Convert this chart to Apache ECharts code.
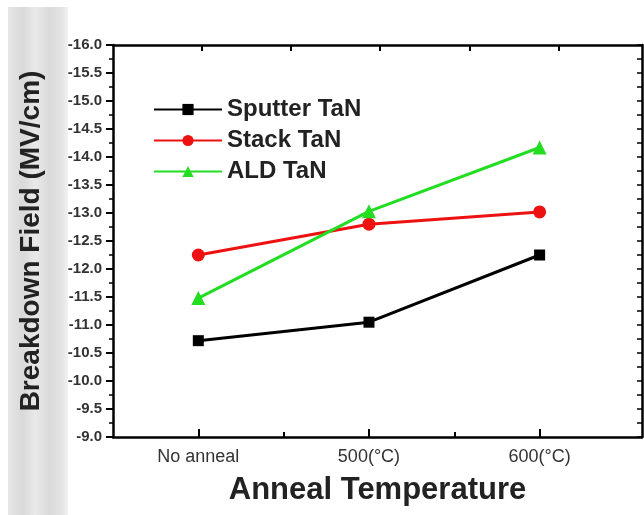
<!DOCTYPE html>
<html>
<head>
<meta charset="utf-8">
<script src="https://cdn.jsdelivr.net/npm/echarts@6/dist/echarts.min.js"></script>
<style>
  html, body { margin: 0; padding: 0; background: #fff; }
  #chart { width: 644px; height: 515px; }
</style>
</head>
<body>
<div id="chart"></div>
<script>
// 数据
var categories = ["No anneal", "500(\u00b0C)", "600(\u00b0C)"];
var xPos = [1, 2, 3];
var sputter = [-10.72, -11.05, -12.25];
var stack = [-12.25, -12.80, -13.02];
var ald = [-11.48, -13.03, -14.17];

(function () {
  var myChart = echarts.init(document.getElementById("chart"));

  function pairs(vals) {
    return vals.map(function (v, i) { return [xPos[i], v]; });
  }

  var font = "Liberation Sans, Arial, sans-serif";

  var option = {
    animation: false,
    backgroundColor: "#fff",
    // 左侧灰色条
    graphic: [{
      type: "rect",
      z: -10,
      shape: { x: 8, y: 7, width: 60, height: 508 },
      style: {
        fill: new echarts.graphic.LinearGradient(0, 0, 1, 0, [
          { offset: 0, color: "#e6e6e6" },
          { offset: 0.25, color: "#d9d9d9" },
          { offset: 0.45, color: "#e9e9e9" },
          { offset: 0.7, color: "#dadada" },
          { offset: 0.9, color: "#e4e4e4" },
          { offset: 1, color: "#f2f2f2" }
        ])
      }
    }],
    grid: { left: 113, right: 2, top: 45, bottom: 78, outerBoundsMode: "none" },
    legend: {
      orient: "vertical",
      left: 148,
      top: 92,
      itemWidth: 68,
      itemHeight: 14,
      itemGap: 6,
      textStyle: { color: "#222", fontSize: 24, lineHeight: 25, fontWeight: "bold", fontFamily: font },
      data: ["Sputter TaN", "Stack TaN", "ALD TaN"]
    },
    xAxis: [{
      type: "value",
      min: 0.5,
      max: 3.6,
      position: "bottom",
      name: "Anneal Temperature",
      nameLocation: "middle",
      nameGap: 38,
      nameTextStyle: { color: "#222", fontSize: 31, fontWeight: "bold", fontFamily: font },
      axisLine: { show: true, lineStyle: { color: "#000", width: 2.5 } },
      axisTick: { show: true, inside: true, length: 8, customValues: xPos, lineStyle: { color: "#000", width: 2 } },
      axisLabel: {
        customValues: xPos,
        margin: 11,
        color: "#333",
        fontSize: 18,
        fontFamily: font,
        formatter: function (v) { return categories[Math.round(v) - 1] || ""; }
      },
      splitLine: { show: false }
    }, {
      // 底部次刻度
      type: "value",
      min: 0.5,
      max: 3.6,
      position: "bottom",
      axisLine: { show: false },
      axisTick: { show: true, inside: true, length: 5, customValues: [1.5, 2.5], lineStyle: { color: "#000", width: 2 } },
      axisLabel: { show: false },
      splitLine: { show: false }
    }, {
      // 顶部边框
      type: "value",
      min: 0.5,
      max: 3.6,
      position: "top",
      axisLine: { show: true, lineStyle: { color: "#000", width: 2.5 } },
      axisTick: { show: true, inside: true, length: 6, customValues: [1.022, 1.544, 2.066, 2.588, 3.11], lineStyle: { color: "#000", width: 2 } },
      axisLabel: { show: false },
      splitLine: { show: false }
    }],
    yAxis: [{
      type: "value",
      min: -16,
      max: -9,
      interval: 0.5,
      inverse: true,
      position: "left",
      name: "Breakdown Field (MV/cm)",
      nameLocation: "middle",
      nameRotate: 90,
      nameGap: 68,
      nameTextStyle: { color: "#222", fontSize: 28, fontWeight: "bold", fontFamily: font },
      axisLine: { show: true, lineStyle: { color: "#000", width: 2.5 } },
      axisTick: { show: true, length: 7, lineStyle: { color: "#000", width: 2 } },
      minorTick: { show: true, splitNumber: 2, length: 4, lineStyle: { color: "#000", width: 1.5 } },
      axisLabel: {
        margin: 11,
        color: "#333",
        fontSize: 15,
        fontWeight: "bold",
        fontFamily: font,
        formatter: function (v) { return v.toFixed(1); }
      },
      splitLine: { show: false }
    }, {
      // 右侧边框
      type: "value",
      min: -16,
      max: -9,
      interval: 0.25,
      inverse: true,
      position: "right",
      axisLine: { show: true, lineStyle: { color: "#000", width: 2.5 } },
      axisTick: { show: true, inside: true, length: 5, lineStyle: { color: "#000", width: 1.5 } },
      axisLabel: { show: false },
      splitLine: { show: false }
    }],
    series: [{
      name: "Sputter TaN",
      type: "line",
      symbol: "rect",
      symbolSize: 11,
      color: "#000",
      lineStyle: { width: 3, color: "#000" },
      data: pairs(sputter)
    }, {
      name: "Stack TaN",
      type: "line",
      symbol: "circle",
      symbolSize: 13,
      color: "#ee1111",
      lineStyle: { width: 3, color: "#ee1111" },
      data: pairs(stack)
    }, {
      name: "ALD TaN",
      type: "line",
      symbol: "triangle",
      symbolSize: 14,
      color: "#22dd22",
      lineStyle: { width: 3, color: "#22dd22" },
      data: pairs(ald)
    }]
  };

  myChart.setOption(option);

  window.addEventListener("resize", function () {
    myChart.resize();
  });
})();
</script>
</body>
</html>
